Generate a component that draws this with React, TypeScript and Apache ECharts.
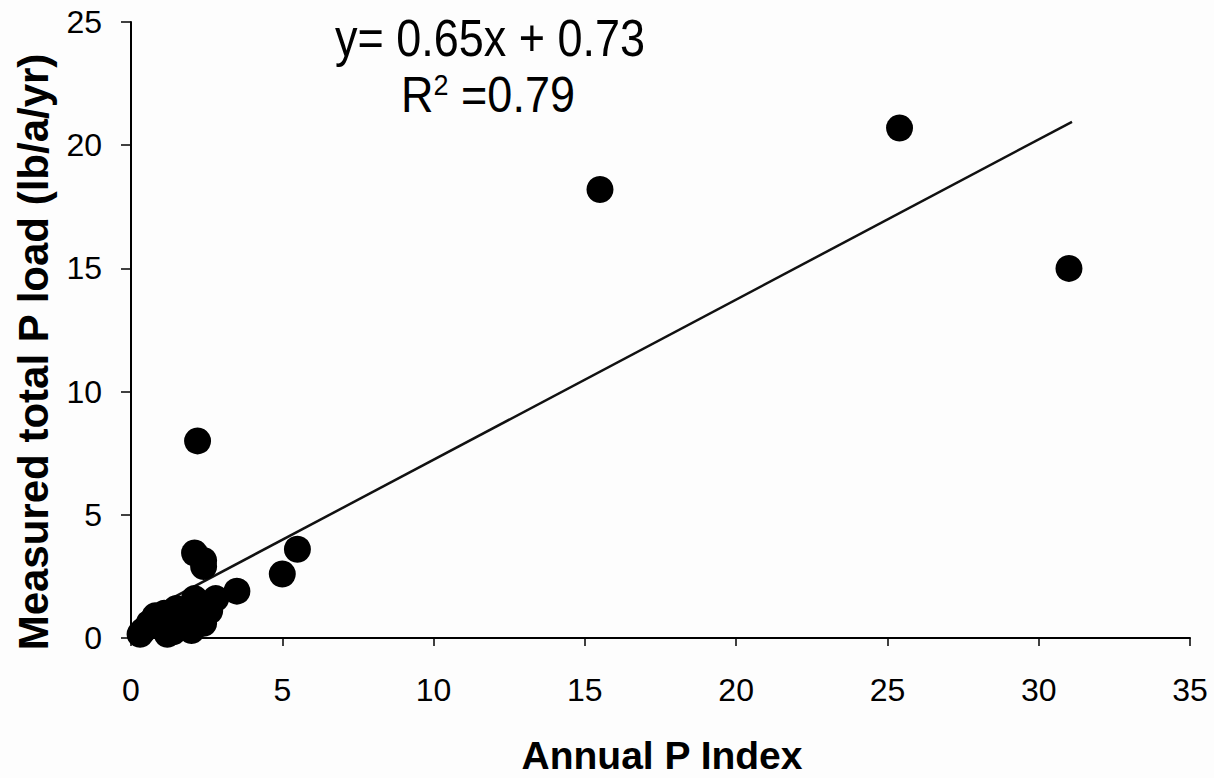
import React, { useEffect, useRef } from "react";
import * as echarts from "echarts";

const pIndex = [0.3, 0.4, 0.6, 0.8, 1.0, 1.1, 1.2, 1.4, 1.5, 1.7, 1.9, 2.0, 2.1, 2.3, 2.4, 2.6, 2.8, 3.5, 2.1, 2.4, 2.4, 5.0, 5.5, 2.2, 15.5, 25.4, 31.0];
const pLoad = [0.15, 0.3, 0.6, 0.9, 0.5, 1.0, 0.15, 0.25, 1.2, 0.5, 0.8, 0.3, 1.6, 1.4, 0.6, 1.1, 1.6, 1.9, 3.45, 3.15, 2.9, 2.6, 3.6, 8.0, 18.2, 20.7, 15.0];
const trendX = [0.3, 31.1];
const trendY = [0.93, 20.95];
const xTicks = [0, 5, 10, 15, 20, 25, 30, 35];
const yTicks = [0, 5, 10, 15, 20, 25];
const xTitle = "Annual P Index";
const yTitle = "Measured total P load (lb/a/yr)";
const equationText = "y= 0.65x + 0.73";
const r2Text = "0.79";

const FONT = "'Liberation Sans', Arial, Helvetica, sans-serif";

export default function App() {
  const ref = useRef<HTMLDivElement>(null);
  useEffect(() => {
    if (!ref.current) return;
    const chart = echarts.init(ref.current, null, { renderer: "svg" });
    const points = pIndex.map((x, i) => [x, pLoad[i]]);
    const trend = trendX.map((x, i) => [x, trendY[i]]);
    chart.setOption({
      animation: false,
      backgroundColor: "#fdfdfd",
      textStyle: { fontFamily: FONT },
      grid: { left: 131, right: 24, top: 22, bottom: 140, containLabel: false },
      xAxis: {
        type: "value",
        min: xTicks[0],
        max: xTicks[xTicks.length - 1],
        interval: xTicks[1] - xTicks[0],
        axisLine: { lineStyle: { color: "#000", width: 2 } },
        axisTick: { show: true, length: 8, lineStyle: { color: "#000", width: 1.5 } },
        axisLabel: { fontSize: 32, color: "#000", margin: 36, fontFamily: FONT },
        splitLine: { show: false },
      },
      yAxis: {
        type: "value",
        min: yTicks[0],
        max: yTicks[yTicks.length - 1],
        interval: yTicks[1] - yTicks[0],
        axisLine: { show: true, lineStyle: { color: "#000", width: 2 } },
        axisTick: { show: true, length: 10, lineStyle: { color: "#000", width: 1.5 } },
        axisLabel: { fontSize: 32, color: "#000", margin: 29, fontFamily: FONT },
        splitLine: { show: false },
      },
      series: [
        {
          type: "line",
          data: trend,
          symbol: "none",
          lineStyle: { color: "#111", width: 2.5 },
          z: 1,
        },
        {
          type: "scatter",
          data: points,
          symbol: "circle",
          symbolSize: 27,
          itemStyle: { color: "#000", opacity: 1 },
          z: 2,
        },
      ],
      graphic: [
        {
          type: "text",
          x: 662,
          y: 755,
          style: {
            text: xTitle,
            fontSize: 39,
            fontWeight: "bold",
            fontFamily: FONT,
            fill: "#000",
            align: "center",
            verticalAlign: "middle",
          },
        },
        {
          type: "text",
          x: 33,
          y: 352,
          rotation: Math.PI / 2,
          style: {
            text: yTitle,
            fontSize: 42,
            fontWeight: "bold",
            fontFamily: FONT,
            fill: "#000",
            align: "center",
            verticalAlign: "middle",
          },
        },
        {
          type: "text",
          x: 490,
          y: 38,
          scaleY: 1.15,
          style: {
            text: equationText,
            fontSize: 45,
            fontFamily: FONT,
            fill: "#000",
            align: "center",
            verticalAlign: "middle",
          },
        },
        {
          type: "text",
          x: 488,
          y: 95,
          scaleY: 1.12,
          style: {
            text: "R{sup|2} =" + r2Text,
            fontSize: 45,
            fontFamily: FONT,
            fill: "#000",
            align: "center",
            verticalAlign: "middle",
            rich: {
              sup: { fontSize: 27, verticalAlign: "top", padding: [0, 0, 18, 0], fontFamily: FONT, fill: "#000" },
            },
          },
        },
      ],
    });
    return () => chart.dispose();
  }, []);
  return <div ref={ref} style={{ position: "absolute", left: 0, top: 0, width: 1214, height: 778 }} />;
}
